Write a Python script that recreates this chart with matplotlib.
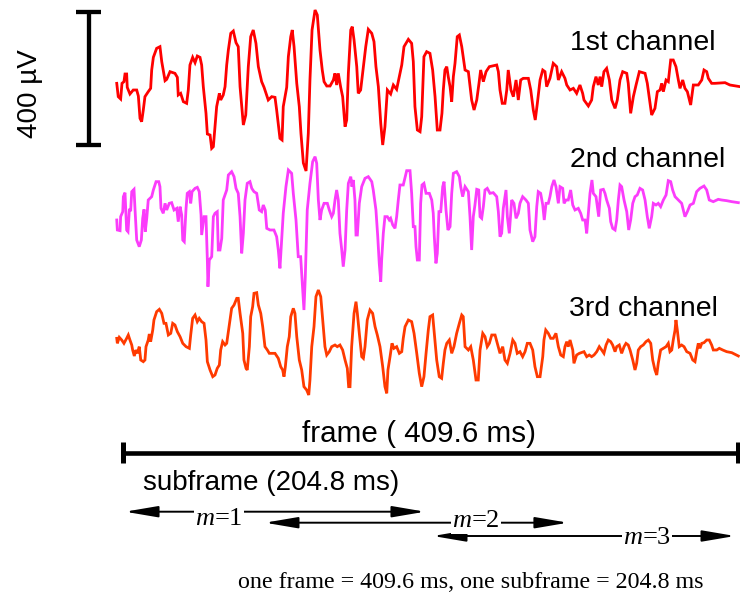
import numpy as np
import matplotlib
matplotlib.use("Agg")
import matplotlib.pyplot as plt

# ============================================================
# DATA (time in ms, amplitude in uV)
# ============================================================

FRAME_MS = 409.6
SCALE_UV = 400

t_ch1 = [-4.5, -3.5, -1.9, -1.0, 0.3, 1.0, 2.1, 2.5, 4.3, 6.5, 8.8, 9.9, 11.0, 12.1, 13.2, 14.3,
         16.5, 18.1, 18.8, 19.9, 22.1, 24.3, 25.5, 27.7, 28.8, 31.0, 34.3, 35.9, 36.5, 38.1, 39.9,
         42.1, 43.2, 44.3, 46.1, 47.7, 49.2, 51.0, 52.1, 53.2, 55.0, 55.9, 57.7, 58.8, 59.9, 61.0,
         62.1, 63.9, 64.8, 66.5, 67.7, 68.8, 69.9, 71.5, 73.2, 75.0, 76.5, 77.7, 79.9, 81.5, 83.2,
         84.8, 86.5, 88.3, 89.9, 92.1, 93.7, 96.5, 98.8, 101.0, 102.1, 104.3, 105.7, 106.5, 108.8,
         109.9, 111.5, 112.5, 113.7, 115.5, 117.2, 118.3, 119.9, 121.7, 123.2, 124.3, 125.7, 127.7,
         129.2, 131.0, 132.5, 133.7, 135.5, 137.7, 139.9, 141.0, 142.1, 143.2, 144.8, 146.1, 147.7,
         148.8, 149.9, 151.5, 152.5, 153.7, 155.5, 156.5, 158.1, 159.9, 161.5, 163.2, 165.5, 167.0,
         168.3, 169.9, 171.5, 172.8, 174.3, 175.9, 178.1, 179.9, 182.1, 183.9, 185.5, 187.0, 189.9,
         192.1, 193.2, 194.3, 195.9, 197.7, 198.8, 200.3, 202.1, 204.3, 206.1, 207.7, 209.2, 211.0,
         212.3, 213.2, 214.3, 215.5, 216.5, 217.7, 218.8, 219.9, 221.0, 222.5, 223.9, 225.5, 227.7,
         229.9, 232.1, 233.7, 235.5, 237.0, 238.1, 239.9, 241.7, 243.9, 248.8, 249.9, 251.0, 252.5,
         254.3, 255.5, 256.5, 258.3, 259.9, 261.7, 263.2, 264.8, 266.5, 269.9, 271.5, 273.2, 274.5,
         275.9, 277.7, 279.5, 281.0, 282.1, 284.3, 286.5, 288.8, 289.9, 292.1, 294.3, 295.5, 297.7,
         299.9, 302.1, 304.3, 306.1, 307.0, 309.9, 312.1, 313.2, 315.0, 316.5, 317.7, 318.8, 320.3,
         322.1, 323.9, 325.5, 327.7, 329.2, 331.0, 332.8, 335.5, 336.5, 338.1, 339.9, 341.7, 343.9,
         347.7, 349.2, 352.1, 354.3, 355.9, 357.7, 358.8, 359.9, 361.7, 363.2, 364.8, 366.5, 368.3,
         369.9, 371.0, 372.8, 374.3, 375.9, 378.1, 379.9, 383.2, 385.5, 387.0, 388.8, 389.9, 392.1,
         394.3, 401.0, 404.3, 411.0]
uv_ch1 = [5, -35, -42, 5, 10, 33, 33, -7, -27, -15, -15, -33, -100, -110, -75, -35,
          -20, -10, 45, 83, 110, 115, 70, 13, 17, 40, 35, 23, -30, -25, -50,
          -55, -15, 60, 83, 67, 87, 83, 60, -5, -85, -147, -150, -190, -185, -125,
          -65, -25, -45, -30, -5, 60, 105, 155, 162, 127, 115, -5, -120, -90, 55,
          145, 165, 125, 55, 10, -7, -45, -35, -37, -75, -160, -165, -65, -7,
          85, 145, 165, 115, 5, -65, -145, -234, -258, -145, 15, 165, 225,
          210, 105, 45, 10, -3, -3, 15, 35, 0, 35, -7, -35, -125,
          -105, 35, 165, 175, 135, 55, -25, -15, 55, 115, 167, 155, 130,
          55, -5, -115, -180, -125, -15, -27, 0, -13, 25, 60, 115, 137,
          125, 70, -65, -135, -140, -95, 85, 100, 95, 45, -35, -135, -135,
          -85, -15, 45, 55, 25, -5, -50, 25, 65, 145, 150, 115, 45,
          40, -45, -75, -45, 5, 45, 10, 40, 55, 60, 40, -15, -55,
          -55, -15, 45, -15, -35, 15, -45, 15, 20, 20, -15, -75, -105,
          -55, 15, 45, 40, -5, 20, 65, 55, 15, 40, 20, 0, -15,
          -10, -25, 0, -25, -45, -63, -45, -5, 25, 0, 25, -5, 40,
          50, 15, -45, -70, -45, 15, 40, 35, 5, -85, -35, 0, 40,
          35, 5, -90, -70, -20, -15, 5, -20, 15, 10, 75, 75, 55,
          15, -10, 15, -10, -20, -60, 0, 0, 15, 45, 40, 20, 5,
          5, 7, 0, -5]

t_ch2 = [-4.5, -4.1, -2.3, -1.9, -0.5, -0.1, 1.0, 2.1, 3.0, 3.9, 4.8, 5.5, 7.0, 7.7, 8.8, 10.5,
         11.9, 12.8, 13.7, 14.5, 15.5, 16.5, 18.8, 19.9, 21.7, 23.5, 24.3, 25.0, 26.5, 27.7, 28.8,
         30.5, 32.1, 33.7, 35.5, 36.5, 37.7, 38.8, 39.5, 40.5, 41.7, 42.5, 43.9, 44.8, 45.7, 47.7,
         49.2, 50.5, 51.7, 52.1, 53.7, 55.0, 55.9, 56.3, 57.2, 58.8, 59.9, 61.0, 62.5, 63.2, 64.3,
         65.5, 66.5, 68.8, 69.9, 72.1, 73.7, 75.0, 76.5, 77.7, 78.8, 79.9, 81.0, 82.5, 84.3, 85.5,
         87.0, 88.8, 90.5, 92.1, 93.2, 94.5, 95.5, 97.7, 100.3, 102.1, 103.2, 104.3, 105.5, 106.5,
         108.3, 109.9, 112.1, 113.2, 115.0, 116.5, 118.1, 119.2, 119.9, 120.3, 121.2, 122.5, 124.3,
         126.1, 127.7, 128.8, 129.9, 131.0, 132.1, 133.7, 135.9, 137.2, 138.8, 139.9, 141.0, 142.1,
         143.2, 144.3, 145.5, 146.5, 147.7, 148.8, 149.9, 151.5, 152.3, 153.2, 154.3, 155.0, 155.9,
         157.2, 158.8, 161.0, 163.2, 165.5, 166.5, 168.3, 169.5, 170.5, 171.5, 172.1, 173.2, 174.3,
         175.9, 177.2, 178.1, 179.5, 181.0, 182.1, 183.2, 184.3, 186.5, 188.8, 191.0, 192.1, 193.2,
         194.3, 195.0, 195.9, 197.2, 198.1, 199.0, 200.3, 201.7, 203.9, 205.5, 206.5, 207.2, 208.3,
         209.2, 210.3, 211.5, 212.8, 213.7, 215.0, 216.3, 217.7, 218.8, 219.9, 222.1, 223.9, 224.8,
         226.1, 227.7, 229.9, 231.0, 232.1, 233.2, 234.3, 235.5, 236.8, 237.7, 238.8, 239.9, 241.0,
         242.5, 244.3, 246.5, 248.8, 249.9, 251.0, 252.1, 253.2, 255.0, 255.9, 257.2, 258.8, 260.3,
         261.7, 263.2, 264.3, 266.1, 268.3, 269.9, 271.0, 272.8, 274.3, 275.5, 276.5, 278.1, 279.5,
         280.5, 281.7, 283.2, 284.3, 285.5, 287.0, 288.3, 289.9, 291.0, 292.8, 293.7, 295.0, 296.5,
         298.1, 299.5, 301.0, 303.2, 304.8, 306.1, 307.7, 308.8, 309.9, 311.0, 312.3, 313.2, 315.0,
         316.8, 318.1, 319.9, 321.0, 322.1, 323.9, 324.8, 326.1, 327.7, 328.8, 329.9, 331.0, 332.1,
         333.7, 335.5, 336.8, 338.1, 339.5, 341.0, 342.5, 344.3, 346.1, 347.7, 349.2, 350.5, 352.1,
         353.2, 355.0, 356.5, 358.1, 359.9, 361.7, 363.2, 364.8, 366.1, 367.7, 369.9, 372.1, 374.3,
         375.9, 377.7, 379.9, 382.1, 384.3, 387.0, 388.8, 390.5, 393.2, 396.5, 398.8, 402.1, 405.5,
         409.9]
uv_ch2 = [-45, -75, -77, -35, -20, 25, 37, -75, -80, -15, -15, 40, 47, -15, -105, -125,
          -105, -40, -13, -80, -40, 15, 25, 45, 70, 70, 55, -10, -25, 5, -15,
          5, 7, -15, -10, -50, -5, -30, -105, -110, -10, 35, 40, 5, 40, 50,
          53, 40, -30, -90, -35, -35, -165, -245, -165, -155, -35, -25, -20, -135, -135,
          -100, 15, 45, 90, 100, 85, 50, 35, -35, -145, -85, 15, 65, 70, 50,
          40, 35, -15, -20, 0, -15, -70, -75, -75, -95, -135, -190, -100, -25,
          55, 105, 95, 35, -45, -155, -155, -235, -285, -315, -215, -15, 65,
          130, 145, 125, 15, -45, -15, 5, 5, -15, -35, -25, 15, 45,
          15, -85, -135, -185, -135, -15, 65, 85, 55, 75, 15, -90, -90,
          5, 55, 80, 85, 70, 45, -15, -95, -175, -230, -165, -85, -35,
          -35, -45, -40, -60, -70, -35, 15, 60, 60, 103, 103, 35, -65,
          -65, -125, -165, -165, 5, 60, 65, 35, 35, 15, -25, -95, -175,
          -145, -20, -20, 55, 70, -15, -75, -65, 35, 95, 100, 85, 55,
          25, 55, 40, -35, -135, -35, 0, 47, 45, -35, -40, -5, 45,
          50, 35, 37, 25, -20, -95, -85, -10, 45, -35, -85, 15, 5,
          -40, -25, 5, 25, 15, 5, -75, -110, -95, -5, 40, 35, 0,
          -45, 5, 5, 25, 55, 75, 55, 5, 55, 50, 5, 15, 15,
          45, 0, -15, -10, -25, -45, -45, -85, -25, 35, 75, 35, 25,
          -35, 45, 47, 35, 15, -10, -50, -70, -75, -45, 15, 60, 55,
          15, -20, -75, -45, 5, 25, 30, 50, 45, 15, -35, -70, -35,
          5, 0, 5, -5, 15, 30, 73, 70, 45, 25, 15, 5, -35,
          -20, 0, 5, 40, 50, 57, 45, 15, 10, 17, 15, 13, 10,
          7]

t_ch3 = [-4.5, -4.1, -2.8, -1.2, 0.3, 2.1, 3.2, 4.3, 5.5, 6.1, 7.2, 8.3, 9.2, 10.5, 11.5, 13.2,
         14.3, 15.0, 16.5, 17.2, 18.1, 19.5, 20.3, 22.1, 23.9, 25.5, 27.0, 28.3, 29.9, 31.5, 32.8,
         34.3, 35.9, 37.7, 39.5, 41.7, 43.9, 44.8, 46.1, 47.7, 49.2, 50.5, 52.1, 53.7, 55.0, 55.9,
         57.7, 59.5, 61.0, 62.5, 63.9, 64.8, 66.1, 67.7, 68.8, 69.9, 71.0, 72.1, 73.7, 75.5, 76.5,
         77.7, 79.5, 80.3, 81.7, 82.5, 83.9, 84.8, 86.1, 87.0, 88.8, 89.9, 91.5, 92.8, 94.3, 95.9,
         97.2, 101.0, 103.2, 104.8, 106.1, 107.0, 107.9, 109.2, 110.5, 111.5, 113.2, 114.3, 115.5,
         117.2, 118.8, 120.3, 122.1, 123.5, 124.3, 125.5, 127.0, 128.3, 129.9, 131.5, 132.8, 134.3,
         135.5, 137.2, 138.8, 141.0, 142.5, 144.3, 146.1, 147.7, 149.2, 150.1, 151.0, 152.1, 153.7,
         155.0, 155.9, 157.2, 158.8, 159.9, 161.0, 162.5, 164.3, 166.1, 167.7, 169.2, 171.0, 172.8,
         174.3, 175.5, 176.3, 177.7, 179.0, 180.3, 182.1, 183.9, 185.5, 186.5, 187.7, 189.9, 192.1,
         193.7, 195.5, 197.2, 198.8, 200.3, 201.7, 203.2, 204.3, 206.1, 207.2, 208.8, 210.5, 212.1,
         213.2, 214.3, 215.5, 217.2, 218.8, 220.3, 222.1, 223.9, 225.5, 226.5, 227.7, 229.9, 231.5,
         233.2, 235.0, 236.5, 237.7, 239.5, 241.0, 242.5, 243.9, 245.5, 247.7, 249.2, 251.0, 252.8,
         254.3, 255.9, 257.7, 259.5, 261.0, 262.5, 264.3, 266.1, 267.7, 269.2, 271.0, 272.8, 274.3,
         275.9, 277.7, 279.5, 280.3, 281.5, 283.2, 284.8, 286.5, 288.3, 289.9, 291.5, 293.2, 294.3,
         295.5, 296.5, 297.7, 299.5, 300.3, 302.1, 303.9, 307.0, 308.8, 310.5, 312.1, 313.7, 315.5,
         317.2, 318.8, 320.3, 321.7, 323.2, 324.8, 326.1, 327.7, 328.8, 330.5, 332.1, 333.7, 335.0,
         336.5, 337.7, 339.5, 341.0, 342.1, 343.2, 344.8, 346.5, 348.3, 349.9, 351.5, 352.8, 354.3,
         355.5, 356.5, 358.1, 359.9, 361.7, 363.2, 364.3, 365.5, 366.5, 367.7, 368.3, 369.2, 370.5,
         372.1, 373.7, 375.5, 377.7, 379.5, 381.0, 382.1, 383.2, 384.3, 385.5, 387.0, 388.8, 390.5,
         392.1, 393.2, 395.5, 397.2, 399.5, 402.1, 405.5, 409.9]
uv_ch3 = [20, 5, 23, 15, 5, 20, 30, 15, 0, -15, -33, -15, -25, -5, -45, -50,
          -45, -5, 15, 33, 10, 45, 75, 100, 107, 95, 65, 65, 30, 35, 65,
          60, 40, 25, 5, -5, -10, 30, 80, 90, 70, 80, 70, 65, 15, -50,
          -75, -95, -90, -70, -60, -15, 10, 0, 5, 40, 75, 110, 120, 140, 140,
          95, 35, -45, -70, -75, -5, 85, 115, 155, 157, 120, 95, 55, -5, -15,
          -25, -25, -40, -65, -75, -95, -65, -5, 25, 85, 110, 95, 25,
          -45, -75, -125, -135, -150, -105, -5, 55, 145, 165, 145, 75, -5,
          -30, -20, -5, 0, -5, 0, -15, -45, -70, -125, -125, -5, 95,
          130, 95, 35, -35, -40, -5, 75, 105, 95, 55, 30, -5, -65,
          -125, -145, -75, -35, 5, -10, -5, -25, -20, 20, 55, 75, 70,
          35, -25, -85, -125, -95, -25, 45, 85, 90, 35, -45, -95, -100,
          -55, -15, 5, 15, -25, -5, 35, 65, 90, 85, -5, -15, -5,
          -45, -105, -105, -15, 35, 25, -5, 5, 30, 30, 5, -25, -5,
          -45, -55, -25, 15, 5, -25, -20, -35, -20, 5, 5, -15, -65,
          -95, -95, -35, 15, 45, 35, 20, 20, 35, -5, -30, -35, -5,
          10, -5, 15, -15, -55, -30, -25, -20, -35, -30, -35, -30, -20,
          -5, -15, -25, 0, 15, 10, 0, -20, -5, 0, -25, -5, 5,
          0, -15, -45, -75, -55, -15, -5, 0, 10, 15, 5, -45, -75,
          -90, -55, -15, -10, -5, 5, -20, -15, 15, 45, 75, 45, -5,
          0, -5, -20, -25, -45, -50, -20, 5, -10, 5, 7, 15, 15,
          0, -15, -15, -10, -15, -20, -23, -33]

CHANNEL_LABELS = ["1st channel", "2nd channel", "3rd channel"]
CHANNEL_COLORS = ["#ff0000", "#fb3cfb", "#ff3a00"]

SUBFRAMES_MS = [(1.0, 201.0), (94.3, 296.3), (206.3, 407.7)]
SUBFRAME_LABELS = ["1", "2", "3"]


# ============================================================
# LAYOUT (pixel helpers for a 740 x 595 canvas)
# ============================================================

W, H = 740, 595
X0_PX, PX_PER_MS = 123.5, 1.5
UV_PER_PX = 3.0


def t_of(xpx):
    return (xpx - X0_PX) / PX_PER_MS


def uv_of(ypx):
    return -ypx * UV_PER_PX


def fig_xy(xpx, ypx):
    return xpx / W, 1 - ypx / H


CHANNEL_BASE_PX = [85, 205, 345]
CHANNEL_LABEL_PX = [(570, 50), (570, 167), (569, 316)]

SANS = "Liberation Sans"
SERIF = "Liberation Serif"

plt.rcParams["mathtext.fontset"] = "custom"
plt.rcParams["mathtext.it"] = "Liberation Serif:italic"
plt.rcParams["mathtext.rm"] = "Liberation Serif"

fig = plt.figure(figsize=(W / 100, H / 100), dpi=100)
ax = fig.add_axes([0, 0, 1, 1])
ax.set_xlim(t_of(0), t_of(W))
ax.set_ylim(uv_of(H), uv_of(0))
ax.axis("off")


# ============================================================
# SIGNALS
# ============================================================

traces = [(t_ch1, uv_ch1), (t_ch2, uv_ch2), (t_ch3, uv_ch3)]
for (t, uv), base, color, label, lpos in zip(traces, CHANNEL_BASE_PX, CHANNEL_COLORS,
                                            CHANNEL_LABELS, CHANNEL_LABEL_PX):
    ax.plot(np.array(t), np.array(uv) + uv_of(base), color=color, lw=2.0,
            solid_joinstyle="miter")
    fig.text(*fig_xy(*lpos), label, fontsize=20.5, family=SANS, ha="left", va="baseline")


# ============================================================
# SCALE BAR
# ============================================================

bar_t = t_of(89)
bar_top = uv_of(12)
bar_bot = bar_top - SCALE_UV
ax.plot([bar_t, bar_t], [bar_top, bar_bot], color="k", lw=3.1, solid_capstyle="butt")
for yb in (bar_top, bar_bot):
    ax.plot([t_of(76), t_of(101)], [yb, yb], color="k", lw=3.1, solid_capstyle="butt")
fig.text(*fig_xy(37, 94), "400 \u00b5V", fontsize=20, family=SANS, rotation=90,
         rotation_mode="anchor", ha="center", va="baseline")


# ============================================================
# FRAME AND SUBFRAMES
# ============================================================

frame_y = uv_of(453.3)
ax.plot([0, FRAME_MS], [frame_y, frame_y], color="k", lw=3.3, solid_capstyle="butt")
for tc in (0, FRAME_MS):
    ax.plot([tc, tc], [uv_of(441.7), uv_of(463.3)], color="k", lw=3.6, solid_capstyle="butt")
fig.text(*fig_xy(301.7, 441.7), "frame ( 409.6 ms)", fontsize=21.3, family=SANS,
         ha="left", va="baseline")
fig.text(*fig_xy(143, 490), "subframe (204.8 ms)", fontsize=20, family=SANS,
         ha="left", va="baseline")

arrow_y_px = [511.7, 522.7, 536.0]
label_px = [(219, 525), (476, 527.3), (647, 544.3)]
for (t0, t1), ypx, lab, lp in zip(SUBFRAMES_MS, arrow_y_px, SUBFRAME_LABELS, label_px):
    ax.annotate("", xy=(t1, uv_of(ypx)), xytext=(t0, uv_of(ypx)),
                arrowprops=dict(arrowstyle="<|-|>,head_length=2.0,head_width=0.34",
                                mutation_scale=10, lw=1.4, color="k",
                                shrinkA=0, shrinkB=0))
    fig.text(*fig_xy(*lp), r"$m$=" + lab, fontsize=19, family=SERIF,
             ha="center", va="baseline", zorder=5,
             bbox=dict(facecolor="white", edgecolor="none", pad=1.0))

fig.text(*fig_xy(238, 588), "one frame = 409.6 ms, one subframe = 204.8 ms",
         fontsize=17.3, family=SERIF, ha="left", va="baseline")

fig.savefig("out.png", dpi=100)
